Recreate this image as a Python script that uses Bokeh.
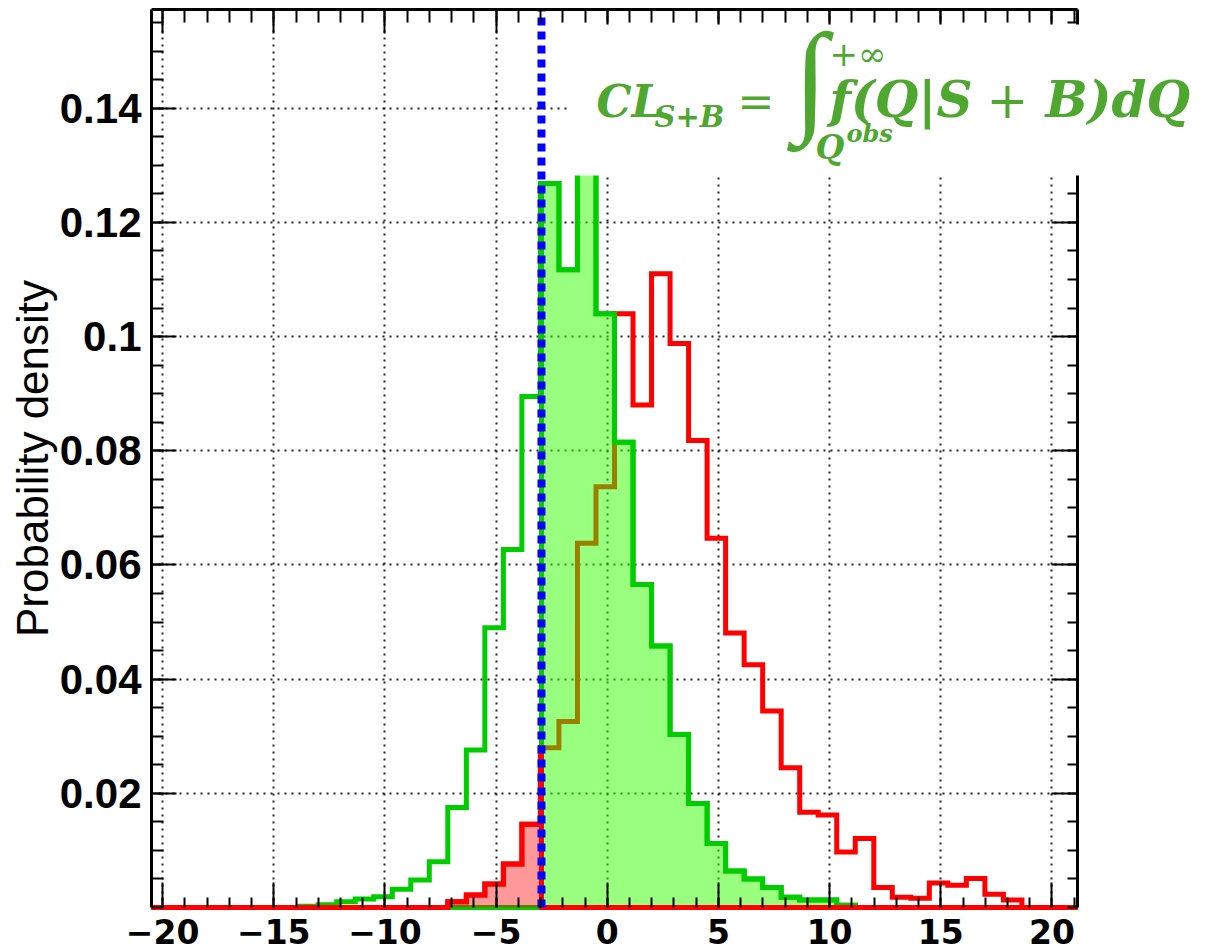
import numpy as np
from bokeh.plotting import figure
from bokeh.models import (Range1d, LinearAxis, FixedTicker, CustomJSTickFormatter, Grid,
                          BoxAnnotation, Label)
from bokeh.embed import file_html
from bokeh.resources import INLINE

# ---------------- data ----------------
x_min, x_max = -20.5, 21.15
n_bins = 50
# background-only (green) histogram, probability per bin
green_vals = [0, 0, 0, 0, 0, 0, 0, 0, 0.0002, 0.0005,
              0.001, 0.0015, 0.0019, 0.0032, 0.0048, 0.008, 0.0175, 0.0276, 0.049, 0.0627,
              0.0895, 0.1268, 0.1117, 0.132, 0.104, 0.0815, 0.0566, 0.0458, 0.0303, 0.0182,
              0.0112, 0.0064, 0.005, 0.0035, 0.0018, 0.0013, 0.0013, 0.0004, 0, 0,
              0, 0, 0, 0, 0, 0, 0, 0, 0, 0]
# signal+background (red) histogram
red_vals = [0, 0, 0, 0, 0, 0, 0, 0, 0, 0,
            0, 0, 0, 0, 0, 0, 0.001, 0.0022, 0.0041, 0.0076,
            0.0146, 0.028, 0.0326, 0.0638, 0.0737, 0.104, 0.088, 0.111, 0.0988, 0.0818,
            0.0647, 0.0481, 0.0425, 0.0344, 0.0245, 0.0167, 0.0162, 0.0097, 0.0121, 0.0035,
            0.0018, 0.0016, 0.0043, 0.0039, 0.0051, 0.0023, 0.0013, 0, 0, 0]
q_obs = -2.96
x_ticks = [-20, -15, -10, -5, 0, 5, 10, 15, 20]
x_tick_labels = ["\u221220", "\u221215", "\u221210", "\u22125", "0", "5", "10", "15", "20"]
y_ticks = [0.02, 0.04, 0.06, 0.08, 0.1, 0.12, 0.14]
y_tick_labels = ["0.02", "0.04", "0.06", "0.08", "0.1", "0.12", "0.14"]
y_title = "Probability density"
y_min, y_max = 0.0, 0.1573

# ---------------- layout ----------------
W, H = 1219, 952
FL, FR, FT, FB = 151, 1077, 9, 907   # pixel box of the plotting area


def px2x(px):
    return x_min + (px - FL) / (FR - FL) * (x_max - x_min)


def py2y(py):
    return y_min + (FB - py) / (FB - FT) * (y_max - y_min)


# frame covers the whole canvas; axes are placed at fixed locations
p = figure(width=W, height=H, x_range=Range1d(px2x(0), px2x(W)), y_range=Range1d(py2y(H), py2y(0)),
           output_backend="svg", toolbar_location=None,
           x_axis_location=None, y_axis_location=None,
           min_border_left=0, min_border_right=0, min_border_top=0, min_border_bottom=0)
p.outline_line_color = None
p.background_fill_color = "white"
p.border_fill_color = "white"
p.center = [r for r in p.center if not isinstance(r, Grid)]

xt = FixedTicker(ticks=x_ticks, minor_ticks=list(range(-20, 22)))
yt = FixedTicker(ticks=y_ticks, minor_ticks=[round(0.005 * i, 4) for i in range(0, 32)])
blank = CustomJSTickFormatter(code="return '';")


def lookup_fmt(ticks, labels):
    return CustomJSTickFormatter(args=dict(t=ticks, l=labels), code="""
for (let i = 0; i < t.length; i++) { if (Math.abs(tick - t[i]) < 1e-9) return l[i]; }
return '';""")


def style_axis(ax, major=25, minor=11):
    ax.major_tick_in = major
    ax.major_tick_out = 0
    ax.minor_tick_in = minor
    ax.minor_tick_out = 0
    ax.axis_line_width = 3
    ax.axis_line_color = "black"
    ax.major_tick_line_width = 2
    ax.minor_tick_line_width = 2
    ax.major_tick_line_color = "black"
    ax.minor_tick_line_color = "black"


def hide_labels(ax):
    ax.formatter = blank
    ax.major_label_text_font_size = "0px"
    ax.major_label_standoff = 0


xa = LinearAxis(ticker=xt, fixed_location=y_min, bounds=(x_min, x_max),
                formatter=lookup_fmt(x_ticks, x_tick_labels))
style_axis(xa, 25, 10)
xa.axis_line_color = None
xa.major_label_text_font = "DejaVu Sans"
xa.major_label_text_font_style = "bold"
xa.major_label_text_font_size = "33px"
xa.major_label_text_color = "black"
xa.major_label_standoff = 11
p.add_layout(xa, "below")

ya = LinearAxis(ticker=yt, fixed_location=x_min, bounds=(y_min, y_max),
                formatter=lookup_fmt(y_ticks, y_tick_labels))
style_axis(ya, 25, 12)
ya.major_label_text_font = "Liberation Sans"
ya.major_label_text_font_style = "bold"
ya.major_label_text_font_size = "42px"
ya.major_label_text_color = "black"
ya.major_label_standoff = 10
ya.axis_label = y_title
ya.axis_label_text_font = "Liberation Sans"
ya.axis_label_text_font_style = "normal"
ya.axis_label_text_font_size = "44px"
ya.axis_label_text_color = "black"
ya.axis_label_standoff = 0
p.add_layout(ya, "left")

top = LinearAxis(ticker=xt, fixed_location=y_max, bounds=(x_min, x_max))
hide_labels(top)
style_axis(top, 24, 13)
p.add_layout(top, "above")
right = LinearAxis(ticker=yt, fixed_location=x_max, bounds=(y_min, y_max))
hide_labels(right)
style_axis(right, 26, 10)
p.add_layout(right, "right")

GRID = dict(grid_line_color="black", grid_line_alpha=0.85, grid_line_width=2, grid_line_dash="2 5")
try:
    p.add_layout(Grid(dimension=0, ticker=xt, bounds=(x_min, x_max), cross_bounds=(y_min, y_max), **GRID), "center")
    p.add_layout(Grid(dimension=1, ticker=yt, bounds=(y_min, y_max), cross_bounds=(x_min, x_max), **GRID), "center")
except AttributeError:
    gl = dict(line_color="black", line_alpha=0.85, line_width=2, line_dash="2 5")
    p.segment(x0=x_ticks, y0=[y_min] * len(x_ticks), x1=x_ticks, y1=[y_max] * len(x_ticks), **gl)
    p.segment(x0=[x_min] * len(y_ticks), y0=y_ticks, x1=[x_max] * len(y_ticks), y1=y_ticks, **gl)

# ---------------- histograms ----------------
edges = np.linspace(x_min, x_max, n_bins + 1)


def step_outline(vals):
    v = np.asarray(vals, float)
    xs = np.repeat(edges, 2)
    ys = np.concatenate([[0.0], np.repeat(v, 2), [0.0]])
    return xs, ys


def clipped_step(vals, lo, hi):
    v = np.asarray(vals, float)
    l = np.clip(edges[:-1], lo, hi)
    r = np.clip(edges[1:], lo, hi)
    keep = r > l
    xs = np.column_stack([l[keep], r[keep]]).ravel()
    ys = np.repeat(v[keep], 2)
    fx = np.concatenate([[xs[0]], xs, [xs[-1]]])
    fy = np.concatenate([[0.0], ys, [0.0]])
    return fx, fy


GREEN = "#00cc00"
RED = "#ff0000"
LW = 5

gx, gy = step_outline(green_vals)
p.line(gx, gy, line_color=GREEN, line_width=LW, line_join="miter")
rx, ry = step_outline(red_vals)
p.line(rx, ry, line_color=RED, line_width=LW, line_join="miter")

# green shaded region (Q > Qobs)
fgx, fgy = clipped_step(green_vals, q_obs, x_max)
p.patch(fgx, fgy, fill_color="#33ff00", fill_alpha=0.5, line_color=None)
p.line(np.concatenate([[x_min], fgx, [x_max]]), np.concatenate([[0.0], fgy, [0.0]]),
       line_color=GREEN, line_width=LW, line_join="miter")

# red shaded region (Q < Qobs)
frx, fry = clipped_step(red_vals, x_min, q_obs)
p.patch(frx, fry, fill_color=RED, fill_alpha=0.4, line_color=None)
p.line(np.concatenate([[x_min], frx, [x_max]]), np.concatenate([[0.0], fry, [0.0]]),
       line_color=RED, line_width=LW, line_join="miter")

# observed value
p.segment(x0=[q_obs], y0=[y_min], x1=[q_obs], y1=[y_max], line_color="#0000ff",
          line_width=8, line_dash="8 6")

# ---------------- formula box ----------------
p.add_layout(BoxAnnotation(left=px2x(567), right=px2x(1219), bottom=py2y(175), top=py2y(24),
                           fill_color="white", fill_alpha=1.0, line_color=None))

FC = "#4ea72e"
FF = "DejaVu Serif"
BASE_K = 0.38   # Label places the alphabetic baseline ~0.38 em below its y


def flabel(txt, px, base, size, style="bold italic", font=FF):
    p.add_layout(Label(x=px2x(px), y=py2y(base - BASE_K * size), text=txt, text_font=font,
                       text_font_size=f"{size}px", text_font_style=style, text_color=FC,
                       text_align="left", text_baseline="alphabetic"))


flabel("CL", 596, 118, 44)
flabel("S+B", 654, 128, 29)
flabel("=", 737, 118, 44, "normal")
flabel("\u222b", 793, 124, 124, "normal", "Liberation Serif")
flabel("+\u221e", 829, 66, 34, "normal")
flabel("Q", 815, 160, 33)
flabel("obs", 846, 142, 24)
flabel("f(Q|S", 829, 118, 50)
flabel("+", 986, 118, 50, "normal")
flabel("B)dQ", 1045, 118, 50)

open("out.html", "w").write(file_html(p, INLINE))
